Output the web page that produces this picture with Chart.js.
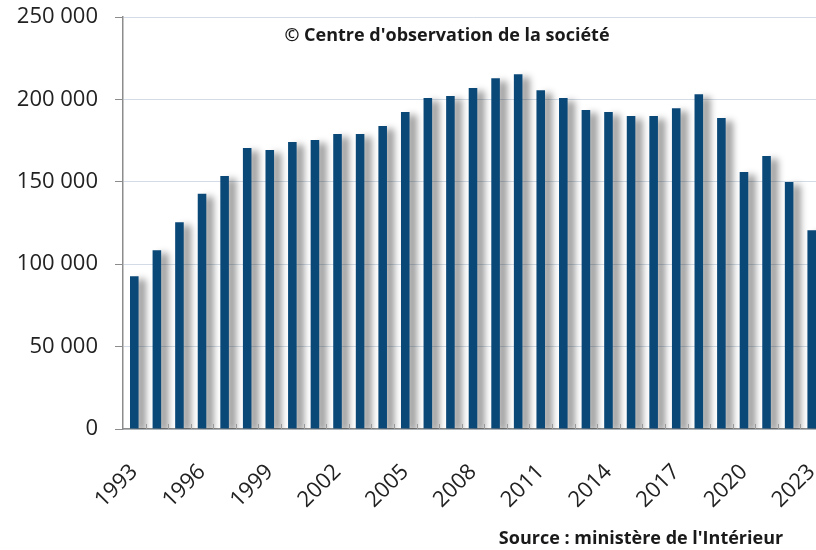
<!DOCTYPE html>
<html><head><meta charset="utf-8">
<script src="https://cdn.jsdelivr.net/npm/chart.js@4/dist/chart.umd.min.js"></script>
<style>
html,body{margin:0;padding:0;background:#fff;overflow:hidden;width:816px;height:550px;}
#wrap{position:absolute;left:0;top:0;width:830px;height:550px;}
</style></head>
<body><div id="wrap"><canvas id="c" width="830" height="550"></canvas></div>
<script>
const years = ["1993","1994","1995","1996","1997","1998","1999","2000","2001","2002","2003","2004","2005","2006","2007","2008","2009","2010","2011","2012","2013","2014","2015","2016","2017","2018","2019","2020","2021","2022","2023"];
const values = [92700,108500,125400,142800,153500,170500,169300,174100,175300,179000,179000,183800,192300,200800,202000,206900,212900,215300,205600,200800,193500,192300,189900,189900,194700,203200,188700,155900,165600,149900,120600];
const yTicks = [0,50000,100000,150000,200000,250000];
const titleText = "\u00a9 Centre d'observation de la soci\u00e9t\u00e9";
const sourceText = "Source : minist\u00e8re de l'Int\u00e9rieur";

const FONT = "'Open Sans', sans-serif";
const fmt = v => String(v).replace(/\B(?=(\d{3})+(?!\d))/g, '\u00a0');

const shadowPlugin = {
  id:'shadow',
  beforeDatasetsDraw(chart){
    const ctx = chart.ctx; ctx.save();
    ctx.shadowColor='rgba(0,0,0,0.42)'; ctx.shadowBlur=7; ctx.shadowOffsetX=7; ctx.shadowOffsetY=3;
  },
  afterDatasetsDraw(chart){
    const ctx = chart.ctx; ctx.restore();
    const xs = chart.scales.x, a = chart.chartArea;
    const w = (xs.right - xs.left)/years.length;
    ctx.save(); ctx.strokeStyle='#9a9a9a'; ctx.lineWidth=1;
    for(let i=1;i<=years.length;i++){
      const x=Math.round(xs.left+i*w)+0.5;
      ctx.beginPath(); ctx.moveTo(x,a.bottom-5); ctx.lineTo(x,a.bottom); ctx.stroke();
    }
    ctx.restore();
  },
  afterDraw(chart){
    const ctx=chart.ctx; ctx.save();
    ctx.fillStyle='#1a1a1a'; ctx.textBaseline='middle';
    ctx.font="bold 18px "+FONT; ctx.textAlign='center';
    ctx.fillText(titleText, 447, 36);
    ctx.fillText(sourceText, 641, 539);
    ctx.restore();
  }
};

new Chart(document.getElementById('c'), {
  type:'bar',
  data:{labels:years, datasets:[{data:values, backgroundColor:'#0a4878', borderWidth:0, barPercentage:0.38, categoryPercentage:1}]},
  options:{
    responsive:false, animation:false, devicePixelRatio:1,
    layout:{padding:{left:0,right:7,top:17,bottom:0}},
    plugins:{legend:{display:false}, tooltip:{enabled:false}},
    scales:{
      x:{
        grid:{display:false},
        border:{display:true,color:'#8c8c8c',width:1.5},
        ticks:{autoSkip:false,maxRotation:45,minRotation:45,padding:22,color:'#222',
          font:{family:FONT,size:22},
          callback:(v,i)=> i%3===0 ? years[i] : ''},
        afterFit:s=>{s.height=121; s.paddingLeft=0; s.paddingRight=0; s.paddingTop=0; s.paddingBottom=0;}
      },
      y:{
        min:0,max:250000,
        afterBuildTicks:s=>{s.ticks=yTicks.map(v=>({value:v}));},
        grid:{color:'#d3dce6',lineWidth:1,drawTicks:true,tickLength:8,tickColor:'#8c8c8c'},
        border:{display:true,color:'#8c8c8c',width:1.5},
        ticks:{padding:17,color:'#222',font:{family:FONT,size:22},callback:v=>fmt(v)},
        afterFit:s=>{s.width=123; s.paddingLeft=0; s.paddingRight=0; s.paddingTop=0; s.paddingBottom=0;}
      }
    }
  },
  plugins:[shadowPlugin]
});
</script></body></html>
